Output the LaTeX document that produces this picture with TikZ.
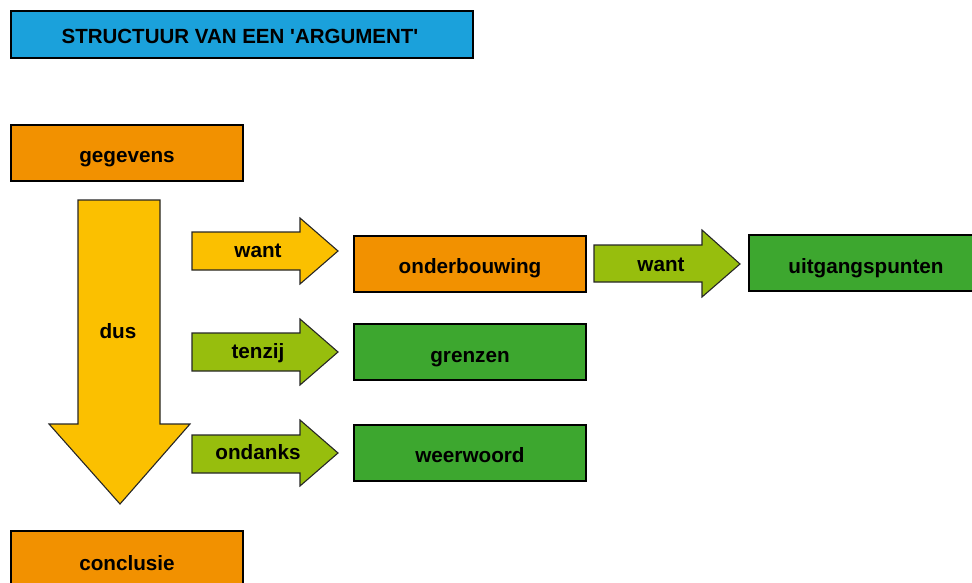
\documentclass[tikz,border=0pt]{standalone}
\usepackage{fontspec}
\setmainfont{Liberation Sans}
\definecolor{cblue}{HTML}{1BA1DB}
\definecolor{corange}{HTML}{F29100}
\definecolor{cyellow}{HTML}{FBC000}
\definecolor{clime}{HTML}{97BE0D}
\definecolor{cgreen}{HTML}{3DA72F}
\begin{document}
\begin{tikzpicture}[x=1pt,y=-1pt,
  box/.style={draw=black,line width=1.2pt},
  shp/.style={draw=black!85,line width=1.1pt,line join=miter},
  lbl/.style={font=\fontsize{20.7}{24}\selectfont\bfseries,text=black,inner sep=0pt,anchor=base}]
\useasboundingbox (0,0) rectangle (972,583);
\begin{scope}
\clip (0,0) rectangle (972,583);
% boxes
\draw[box,fill=cblue] (11,11) rectangle (473,58);
\node[lbl,font=\fontsize{20.5}{24}\selectfont\bfseries] (title) at (240,43.5) {STRUCTUUR VAN EEN \textquotesingle ARGUMENT\textquotesingle};
\draw[box,fill=corange] (11,125) rectangle (243,181);
\node[lbl] (geg) at (127,163) {gegevens};
\draw[box,fill=corange] (11,531) rectangle (243,600);
\node[lbl] (concl) at (127,570) {conclusie};
\draw[box,fill=corange] (354,236) rectangle (586,292);
\node[lbl] (onder) at (470,273) {onderbouwing};
\draw[box,fill=cgreen] (354,324) rectangle (586,380);
\node[lbl] (gren) at (470,362) {grenzen};
\draw[box,fill=cgreen] (354,425) rectangle (586,481);
\node[lbl] (weer) at (470,462) {weerwoord};
\draw[box,fill=cgreen] (749,235) rectangle (990,291);
\node[lbl] (uitg) at (866,273) {uitgangspunten};
% big down arrow
\draw[shp,fill=cyellow] (78,200) -- (160,200) -- (160,424) -- (190,424) -- (120,504) -- (49,424) -- (78,424) -- cycle;
\node[lbl] (dus) at (118,338) {dus};
% right arrows
\draw[shp,fill=cyellow] (192,232) -- (300,232) -- (300,218) -- (338,251) -- (300,284) -- (300,270) -- (192,270) -- cycle;
\node[lbl] (want1) at (258,257) {want};
\draw[shp,fill=clime] (192,333) -- (300,333) -- (300,319) -- (338,352) -- (300,385) -- (300,371) -- (192,371) -- cycle;
\node[lbl] (tenzij) at (258,358) {tenzij};
\draw[shp,fill=clime] (192,435) -- (300,435) -- (300,420) -- (338,453) -- (300,486) -- (300,473) -- (192,473) -- cycle;
\node[lbl] (ondanks) at (258,459) {ondanks};
\draw[shp,fill=clime] (594,245) -- (702,245) -- (702,230) -- (740,264) -- (702,297) -- (702,282) -- (594,282) -- cycle;
\node[lbl] (want2) at (661,271) {want};
\end{scope}
\end{tikzpicture}
\end{document}
